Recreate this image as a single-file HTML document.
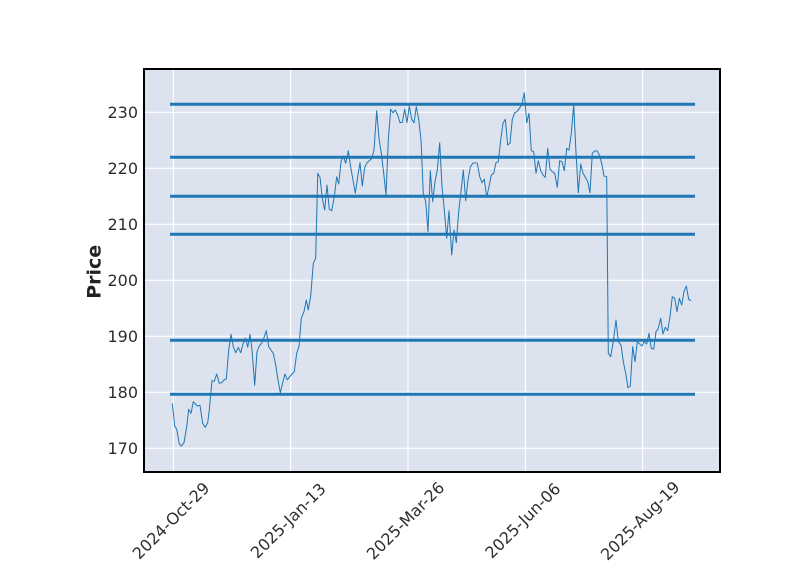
<!DOCTYPE html>
<html>
<head>
<meta charset="utf-8">
<style>
  html,body{margin:0;padding:0;background:#fff;}
  svg{display:block;}
  text{font-family:"DejaVu Sans","Liberation Sans",sans-serif;}
</style>
</head>
<body>
<svg width="800" height="575" viewBox="0 0 800 575" xmlns="http://www.w3.org/2000/svg">
  <rect x="0" y="0" width="800" height="575" fill="#ffffff"/>
  <!-- axes background -->
  <rect x="144" y="69" width="576" height="403" fill="#dce2ee"/>
  <!-- grid -->
  <g stroke="#ffffff" stroke-width="1.2">
    <line x1="144" x2="720" y1="448.3" y2="448.3"/>
    <line x1="144" x2="720" y1="392.3" y2="392.3"/>
    <line x1="144" x2="720" y1="336.3" y2="336.3"/>
    <line x1="144" x2="720" y1="280.3" y2="280.3"/>
    <line x1="144" x2="720" y1="224.3" y2="224.3"/>
    <line x1="144" x2="720" y1="168.3" y2="168.3"/>
    <line x1="144" x2="720" y1="112.3" y2="112.3"/>
    <line y1="69" y2="472" x1="173.3" x2="173.3"/>
    <line y1="69" y2="472" x1="290.7" x2="290.7"/>
    <line y1="69" y2="472" x1="408" x2="408"/>
    <line y1="69" y2="472" x1="525.3" x2="525.3"/>
    <line y1="69" y2="472" x1="642.6" x2="642.6"/>
  </g>
  <!-- horizontal levels -->
  <g stroke="#1f77b4" stroke-width="3">
    <line x1="170" x2="695" y1="104.3" y2="104.3"/>
    <line x1="170" x2="695" y1="157.3" y2="157.3"/>
    <line x1="170" x2="695" y1="196.3" y2="196.3"/>
    <line x1="170" x2="695" y1="234.3" y2="234.3"/>
    <line x1="170" x2="695" y1="340.3" y2="340.3"/>
    <line x1="170" x2="695" y1="394.3" y2="394.3"/>
  </g>
  <!-- price line -->
  <polyline fill="none" stroke="#1f77b4" stroke-width="1" stroke-linejoin="round" points="172.3,403.3 174.7,426 176.7,429.3 179.3,444 181.3,446 184,442.7 186.7,426.7 188.7,409.3 191,413.3 193.3,401.7 197.3,406 200,405.3 202.7,423.3 205.3,427.3 207.7,422.7 209.3,410 212,380.7 214.3,381.3 216.7,374 219.3,383.3 221.7,382.7 224,380 226.3,379 228.7,350 231,334.3 233.3,346.7 235.7,352.7 238.3,347.3 240.7,352.7 243,344 245.7,338.3 247.7,347.3 250,334.3 252,350 254.7,385.3 257,351.7 259.3,346 262,342.7 264.3,336.7 266.3,330.7 268.7,346.7 271,350 273.3,353.3 276,366.7 278,380 280.3,392.7 282.7,382.7 285,374 287.3,380 289.7,376.7 292,374 294.3,371.7 296.7,353.3 299,346.7 301.3,318.3 304,311.7 306.3,300 308.3,310 310.7,296 313.3,263.3 315.7,258 317.7,173.3 320,177.3 322.3,198.3 324.7,210 327,185 329.3,209.3 331.7,210.7 334.3,196.7 336.7,176.7 338.7,184 341,161.7 343.3,156 345.7,163.3 348.3,150.7 350.7,167.3 353,180 355.3,193.3 357.7,176.7 360,162.7 362.3,186 364.7,167.3 367,162.7 369.3,160.7 371.7,158.7 374,150 376.7,110.7 379,138.3 381.3,153.3 383.7,173.3 386,195 388.3,140 390.7,109.3 393,112.7 395.3,110 397.7,115 400,122.7 402.3,122.3 404.7,109.3 407,122.7 409.3,106 411.7,119.3 414,122.7 416.3,106.7 418.7,119.3 421,140 423.3,193.3 425.7,201.7 428,231.7 430.3,170.7 432.7,201.7 435,181.7 437.3,170 439.7,142.7 442,186.7 444.3,210 446.7,238.3 449,210.7 451.7,255 454,230 456.3,242.7 458.7,211.7 461,191.7 463.3,170 465.7,200.7 468,180 470.3,167.3 472.7,163.3 475,162.7 477.3,163.3 479.7,176.7 482,182.7 484.3,179.3 486.7,197.3 489,186.7 491.3,175 493.7,173.3 496,162.7 498.3,161.7 500.7,140 503,123.3 505.3,119.3 507.7,145 510,143.3 512.3,119.3 514.7,112.7 517,111.7 519.3,108.3 521.7,105 524.3,92.7 526.7,122.7 529,113.3 531.3,150.7 533.7,151.7 536,173.3 538.3,160.7 540.7,170.7 543,175 545.3,177.3 547.7,148.3 550,169.3 552.3,171.7 554.7,173.3 557.3,187.3 559.7,160.7 562,161.7 564.3,170.7 566.7,148.3 569,150 571.3,133.3 573.7,105 576,152.7 578.3,192.7 580.7,164 583,173.3 585.3,177.3 587.7,181.7 590,192.7 592.3,153.3 594.7,151 597,150.7 599.3,155 601.7,163.3 604,176 606.7,176.7 608.3,353.3 610.7,356.7 613.3,341.7 616,320 618.3,341.7 621,345 623.3,361.7 625.7,373.3 628,387.7 630.3,386 632.7,346.7 635,361.7 637.3,341.7 639.7,344 642,346 644.3,341.7 646.7,344 649,333.3 651.3,348.3 653.7,349 656,331.7 658.3,328.3 660.7,318.3 663,334 665.3,327.3 667.7,330.7 670,316.7 672.3,296.7 674.7,298.3 677,311.7 679.3,298.3 681.7,305 684,291.7 686.3,286 688.7,299.3 691,300.7"/>
  <!-- spines -->
  <rect x="144" y="69" width="576" height="403" fill="none" stroke="#000" stroke-width="2"/>
  <!-- y tick labels -->
  <g font-size="16" fill="#2e2e2e" text-anchor="end">
    <text x="138" y="454.2">170</text>
    <text x="138" y="398.2">180</text>
    <text x="138" y="342.2">190</text>
    <text x="138" y="286.2">200</text>
    <text x="138" y="230.2">210</text>
    <text x="138" y="174.2">220</text>
    <text x="138" y="118.2">230</text>
  </g>
  <!-- x tick labels -->
  <g font-size="16" fill="#2e2e2e" text-anchor="middle">
    <text transform="translate(170.8,520.5) rotate(-45)" x="0" y="5.8">2024-Oct-29</text>
    <text transform="translate(288.0,520.5) rotate(-45)" x="0" y="5.8">2025-Jan-13</text>
    <text transform="translate(405.3,520.5) rotate(-45)" x="0" y="5.8">2025-Mar-26</text>
    <text transform="translate(522.6,520.5) rotate(-45)" x="0" y="5.8">2025-Jun-06</text>
    <text transform="translate(640.0,520.5) rotate(-45)" x="0" y="5.8">2025-Aug-19</text>
  </g>
  <!-- y axis label -->
  <text transform="translate(100.5,271.8) rotate(-90)" text-anchor="middle" font-size="19" font-weight="bold" fill="#222">Price</text>
</svg>
</body>
</html>
